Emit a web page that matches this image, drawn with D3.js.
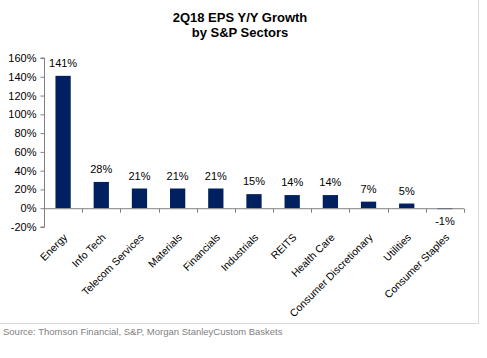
<!DOCTYPE html>
<html><head><meta charset="utf-8">
<script src="https://cdn.jsdelivr.net/npm/d3@7"></script>
<style>body{margin:0;background:#fff;}svg{display:block;font-family:Arial,"Liberation Sans",sans-serif;}</style>
</head><body>
<svg id="c" width="487" height="358"></svg>
<script>
const categories = ["Energy","Info Tech","Telecom Services","Materials","Financials","Industrials","REITS","Health Care","Consumer Discretionary","Utilities","Consumer Staples"];
const values = [141,28,21,21,21,15,14,14,7,5,-1];
const yTicks = [-20,0,20,40,60,80,100,120,140,160];

const svg = d3.select("#c");
const x = d3.scaleBand().domain(categories).range([44,464]).paddingInner(0.6).paddingOuter(0.3);
const y = d3.scaleLinear().domain([-20,160]).range([227,58]);

// frame lines
svg.append("line").attr("x1",478.5).attr("x2",478.5).attr("y1",0).attr("y2",323.5).attr("stroke","#d9d9d9");
svg.append("line").attr("x1",0).attr("x2",479).attr("y1",323.5).attr("y2",323.5).attr("stroke","#d9d9d9");

// title
const t = svg.append("text").attr("text-anchor","middle").attr("font-weight","bold").attr("font-size",13).attr("fill","#000");
t.append("tspan").attr("x",240).attr("y",22).text("2Q18 EPS Y/Y Growth");
t.append("tspan").attr("x",240).attr("y",37).text("by S&P Sectors");

// y axis
const ya = svg.append("g").attr("transform","translate(44.5,0)")
  .call(d3.axisLeft(y).tickValues(yTicks).tickFormat(d=>d+"%").tickSize(4).tickPadding(4));
ya.select(".domain").attr("stroke","#808080").attr("d","M-4,"+y(-20)+"H0V"+y(160)+"H-4");
ya.selectAll(".tick line").attr("stroke","#808080");
ya.selectAll(".tick text").attr("font-size",11).attr("fill","#000").attr("font-family","Arial,'Liberation Sans',sans-serif");

// bars
svg.selectAll("rect.bar").data(values).enter().append("rect").attr("class","bar")
  .attr("x",(d,i)=>x(categories[i]))
  .attr("width",x.bandwidth())
  .attr("y",d=>y(Math.max(0,d)))
  .attr("height",d=>Math.abs(y(d)-y(0)))
  .attr("fill","#002060");

// x axis
const step = x.step();
const xa = svg.append("g").attr("transform","translate(0,"+(y(0)+0.5)+")");
xa.append("line").attr("x1",44).attr("x2",464).attr("stroke","#808080");
categories.forEach((c,i)=>{
  const bx = 44 + step*(i+1);
  xa.append("line").attr("x1",Math.round(bx)+0.5).attr("x2",Math.round(bx)+0.5).attr("y1",0).attr("y2",4).attr("stroke","#808080");
});

// category labels
svg.selectAll("text.cat").data(categories).enter().append("text").attr("class","cat")
  .attr("text-anchor","end").attr("font-size",10.5).attr("fill","#000")
  .attr("transform",(d)=>"translate("+(x(d)+x.bandwidth()/2+5)+","+(y(-20)+11)+") rotate(-45)")
  .text(d=>d);

// value labels
svg.selectAll("text.val").data(values).enter().append("text").attr("class","val")
  .attr("text-anchor","middle").attr("font-size",11).attr("fill","#000")
  .attr("x",(d,i)=>x(categories[i])+x.bandwidth()/2)
  .attr("y",d=> d>=0 ? y(d)-9 : y(-20)-2)
  .text(d=>d+"%");

// source
svg.append("text").attr("x",3).attr("y",335).attr("font-size",9.5).attr("fill","#7f7f7f")
  .text("Source: Thomson Financial, S&P, Morgan StanleyCustom Baskets");
</script>
</body></html>
